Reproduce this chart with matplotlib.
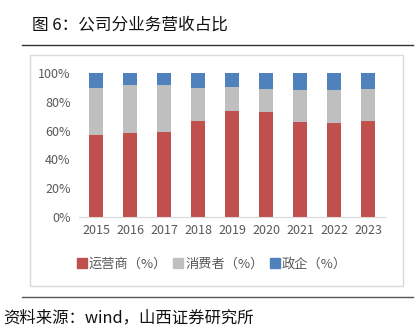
import matplotlib
matplotlib.use('Agg')
import matplotlib.pyplot as plt
from matplotlib.lines import Line2D
from matplotlib.patches import Rectangle
from matplotlib.ticker import PercentFormatter

plt.rcParams['font.family'] = ['Noto Sans CJK SC', 'DejaVu Sans']

years = ['2015', '2016', '2017', '2018', '2019', '2020', '2021', '2022', '2023']
operator = [57.2, 58.3, 58.8, 66.9, 73.6, 73.1, 66.2, 65.3, 66.9]
consumer = [32.4, 33.4, 32.6, 22.4, 16.4, 16.0, 22.2, 22.6, 22.2]
enterprise = [10.4, 8.3, 8.6, 10.7, 10.0, 10.9, 11.6, 12.1, 10.9]
labels = ['运营商（%）', '消费者（%）', '政企（%）']
colors = ['#C0504D', '#BFBFBF', '#4F81BD']

W, H = 415, 335
fig = plt.figure(figsize=(W / 100, H / 100), dpi=100)

def px(x, y):
    return x / W, 1 - y / H

# header and footer rules
fig.add_artist(Line2D([22 / W, 413 / W], [1 - 45 / H] * 2, color='#333333', lw=1.0))
fig.add_artist(Line2D([22 / W, 413 / W], [1 - 297 / H] * 2, color='#555555', lw=1.0))
# chart frame
fig.add_artist(Rectangle(px(30, 286), 373 / W, 231 / H, fill=False,
                         edgecolor='#D9D9D9', lw=1.0))

fig.text(*px(32, 25), '图 6：公司分业务营收占比', fontsize=12, va='center', ha='left',
         color='#111111')
fig.text(*px(3, 318), '资料来源：wind，山西证券研究所', fontsize=11.8, va='center',
         ha='left', color='#111111')

ax = fig.add_axes([79 / W, (H - 217) / H, 306 / W, 144 / H])
x = list(range(len(years)))
bottom2 = [a + b for a, b in zip(operator, consumer)]
ax.bar(x, operator, width=0.41, color=colors[0])
ax.bar(x, consumer, width=0.41, bottom=operator, color=colors[1])
ax.bar(x, enterprise, width=0.41, bottom=bottom2, color=colors[2])

ax.set_xlim(-0.5, len(years) - 0.5)
ax.set_ylim(0, 100)
ax.set_yticks([0, 20, 40, 60, 80, 100])
ax.yaxis.set_major_formatter(PercentFormatter(decimals=0))
ax.set_xticks(x)
ax.set_xticklabels(years)
for s in ['top', 'left', 'right']:
    ax.spines[s].set_visible(False)
ax.spines['bottom'].set_color('#D9D9D9')
ax.tick_params(axis='both', length=0, labelsize=9, labelcolor='#595959')
ax.tick_params(axis='y', pad=6)
ax.tick_params(axis='x', pad=5)

handles = [Line2D([], [], marker='s', linestyle='none', markersize=6.5,
                  markerfacecolor=c, markeredgecolor=c) for c in colors]
fig.legend(handles, labels, loc='center', bbox_to_anchor=px(212, 264), ncol=3,
           frameon=False, fontsize=9.5, labelcolor='#595959', handletextpad=0.15,
           columnspacing=0.5, handlelength=0.7)

fig.savefig('out.png', dpi=100)
